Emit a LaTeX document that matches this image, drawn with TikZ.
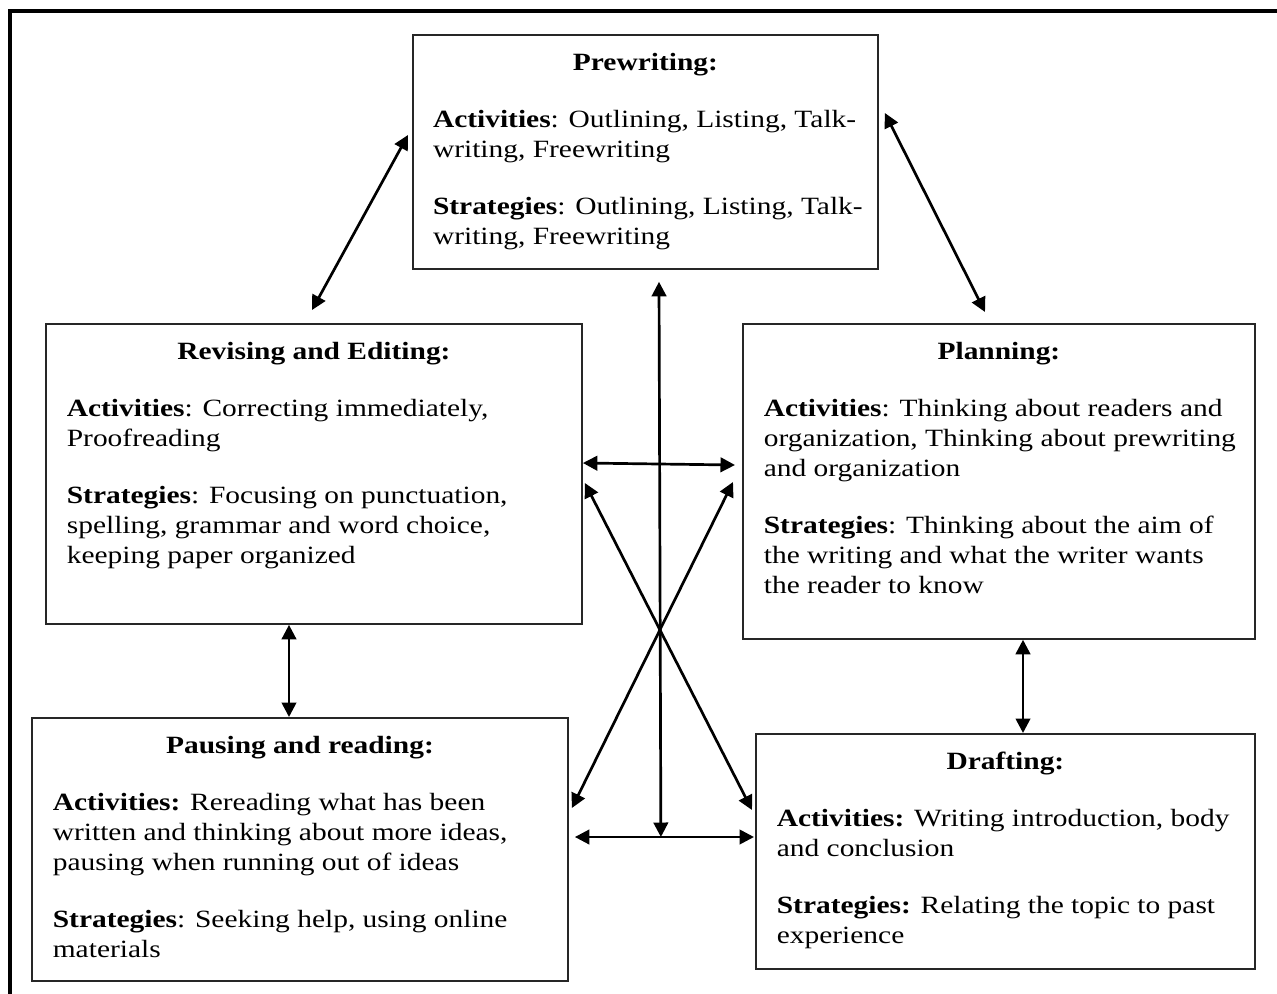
\documentclass[tikz,border=0pt]{standalone}
\usepackage{fontspec}
\setmainfont{Liberation Serif}[FakeStretch=1.185]
\usetikzlibrary{arrows.meta,calc}

\tikzset{
  stage/.style={draw=black!85, line width=0.9pt, inner sep=0pt, anchor=north west},
  link/.style={{Triangle[length=7pt,width=7pt]}-{Triangle[length=7pt,width=7pt]}, line width=1.3pt},
  frame/.style={line width=1.5pt}
}

% width, height, title, body
\newcommand{\stagetext}[4]{\parbox[c][#2][t]{#1}{\fontsize{12pt}{14.5pt}\selectfont
  \centering\rule{0pt}{17.4pt}\textbf{#3}\par\vspace{13pt}
  \raggedright\leftskip=10.1pt #4}}

\begin{document}
\begin{tikzpicture}[x=0.483pt, y=-0.483pt]

 \useasboundingbox (0,0) rectangle (1277,994);
 \draw[frame] (1277,11) -- (10,11) -- (10,994);

 \node[stage] (pre) at (412,34) {\stagetext{224.6pt}{113pt}{Prewriting:}{%
   \leftskip=9.7pt
   \textbf{Activities}: Outlining, Listing, Talk-\\
   writing, Freewriting\\[13pt]
   \textbf{Strategies}: Outlining, Listing, Talk-\\
   writing, Freewriting}};

 \node[stage] (rev) at (45,323) {\stagetext{258.9pt}{144.9pt}{Revising and Editing:}{%
   \textbf{Activities}: Correcting immediately,\\
   Proofreading\\[13pt]
   \textbf{Strategies}: Focusing on punctuation,\\
   spelling, grammar and word choice,\\
   keeping paper organized}};

 \node[stage] (plan) at (742,323) {\stagetext{247.3pt}{152.1pt}{Planning:}{%
   \textbf{Activities}: Thinking about readers and\\
   organization, Thinking about prewriting\\
   and organization\\[13pt]
   \textbf{Strategies}: Thinking about the aim of\\
   the writing and what the writer wants\\
   the reader to know}};

 \node[stage] (pau) at (31,717) {\stagetext{258.9pt}{127pt}{Pausing and reading:}{%
   \textbf{Activities:} Rereading what has been\\
   written and thinking about more ideas,\\
   pausing when running out of ideas\\[13pt]
   \textbf{Strategies}: Seeking help, using online\\
   materials}};

 \node[stage] (dra) at (755,733) {\stagetext{241pt}{113.5pt}{Drafting:}{%
   \textbf{Activities:} Writing introduction, body\\
   and conclusion\\[13pt]
   \textbf{Strategies:} Relating the topic to past\\
   experience}};

 % links between the stages
 \draw[link] ($(pre.north west)+(-4,101)$) -- ($(rev.north west)+(267,-13)$);
 \draw[link] ($(pre.north east)+(6,79)$) -- ($(plan.north west)+(243,-11)$);
 \draw[link] ($(rev.south west)+(244,0)$) -- ($(pau.north west)+(258,0)$);
 \draw[link] ($(plan.south west)+(281,0)$) -- ($(dra.north west)+(268,0)$);
 \draw[link] ($(rev.north east)+(0,140)$) -- ($(plan.north west)+(-7,142)$);
 \draw[link] ($(rev.north east)+(2,160)$) -- ($(dra.north west)+(-3,77)$);
 \draw[link] ($(plan.north west)+(-9,159)$) -- ($(pau.north east)+(3,91)$);

 \coordinate (hub) at ($(pau.north east)+(92,120)$);
 \draw[link] ($(pau.north east)+(6,120)$) -- ($(dra.north west)+(-1,104)$);
 \draw[link] ($(pre.south west)+(247,12)$) -- (hub);

\end{tikzpicture}
\end{document}
